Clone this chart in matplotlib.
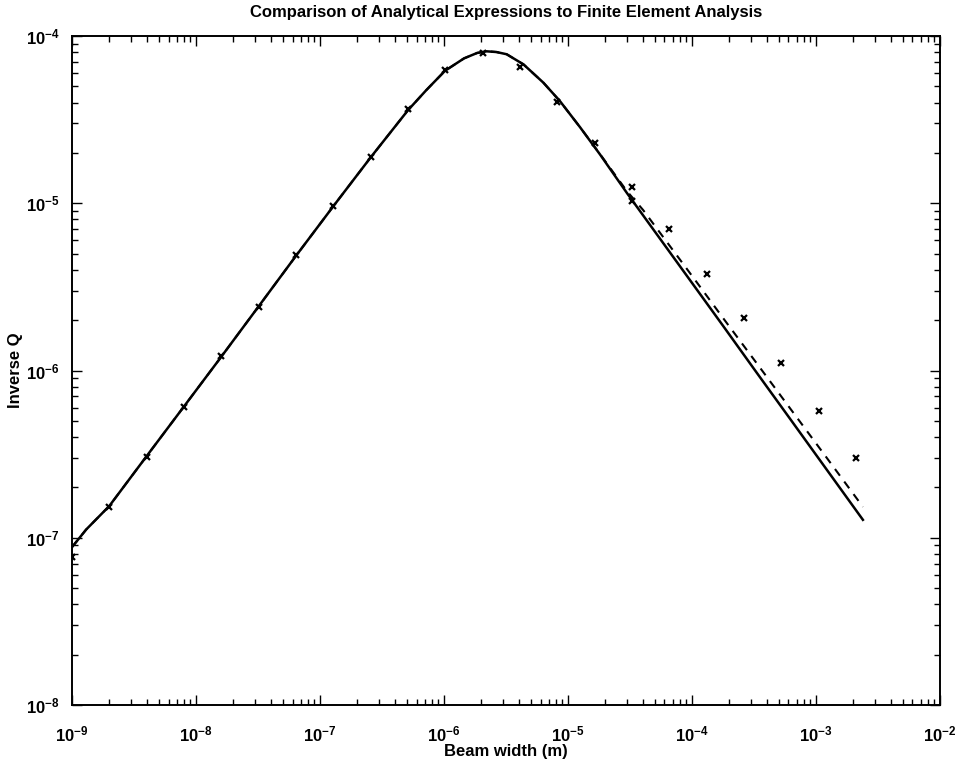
import matplotlib
matplotlib.use("Agg")
import matplotlib.pyplot as plt
from matplotlib.ticker import LogLocator, LogFormatterSciNotation, NullFormatter

plt.rcParams['font.family'] = ['Liberation Sans Narrow', 'Liberation Sans', 'DejaVu Sans']

# Analytical expression (solid)
solid_x = [1.0e-9, 1.1e-9, 1.3e-9, 2.0e-9, 4.0e-9, 8.0e-9, 1.6e-8, 3.2e-8, 6.4e-8,
           1.28e-7, 2.56e-7, 5.12e-7, 7.2e-7, 1.02e-6, 1.45e-6, 1.85e-6, 2.21e-6,
           2.65e-6, 3.2e-6, 4.37e-6, 6.33e-6, 8.61e-6, 1.25e-5, 1.81e-5, 2.99e-5,
           5.52e-5, 1.78e-4, 3.34e-4, 6.17e-4, 1.14e-3, 2.39e-3]
solid_y = [8.8e-8, 9.6e-8, 1.12e-7, 1.55e-7, 3.08e-7, 6.1e-7, 1.21e-6, 2.42e-6, 4.85e-6,
           9.6e-6, 1.88e-5, 3.6e-5, 4.75e-5, 6.2e-5, 7.35e-5, 7.92e-5, 8.10e-5,
           8.02e-5, 7.78e-5, 6.77e-5, 5.26e-5, 4.08e-5, 2.85e-5, 1.96e-5, 1.15e-5,
           6.14e-6, 1.85e-6, 9.66e-7, 5.15e-7, 2.74e-7, 1.28e-7]

# Analytical expression (dashed)
dashed_x = [1.0e-9, 1.1e-9, 1.3e-9, 2.0e-9, 4.0e-9, 8.0e-9, 1.6e-8, 3.2e-8, 6.4e-8,
            1.28e-7, 2.56e-7, 5.12e-7, 7.2e-7, 1.02e-6, 1.45e-6, 1.85e-6, 2.21e-6,
            2.65e-6, 3.2e-6, 4.37e-6, 6.33e-6, 8.61e-6, 1.25e-5, 1.81e-5, 2.99e-5,
            4.03e-5, 1.02e-4, 1.78e-4, 3.34e-4, 6.17e-4, 1.14e-3, 2.39e-3]
dashed_y = [8.8e-8, 9.6e-8, 1.12e-7, 1.55e-7, 3.08e-7, 6.1e-7, 1.21e-6, 2.42e-6, 4.85e-6,
            9.6e-6, 1.88e-5, 3.6e-5, 4.75e-5, 6.2e-5, 7.35e-5, 7.92e-5, 8.10e-5,
            8.02e-5, 7.78e-5, 6.77e-5, 5.26e-5, 4.08e-5, 2.85e-5, 1.97e-5, 1.18e-5,
            9.12e-6, 3.61e-6, 2.06e-6, 1.10e-6, 5.95e-7, 3.22e-7, 1.53e-7]

# Finite element analysis points
fea_x = [1.0e-9, 2.0e-9, 4.0e-9, 8.0e-9, 1.6e-8, 3.2e-8, 6.4e-8, 1.28e-7, 2.56e-7,
         5.12e-7, 1.02e-6, 2.05e-6, 4.10e-6, 8.19e-6, 1.64e-5, 3.28e-5, 3.28e-5,
         6.55e-5, 1.31e-4, 2.62e-4, 5.24e-4, 1.05e-3, 2.10e-3]
fea_y = [7.7e-8, 1.53e-7, 3.04e-7, 6.05e-7, 1.22e-6, 2.4e-6, 4.91e-6, 9.64e-6, 1.89e-5,
         3.66e-5, 6.27e-5, 7.94e-5, 6.53e-5, 4.03e-5, 2.29e-5, 1.25e-5, 1.03e-5,
         7.0e-6, 3.78e-6, 2.06e-6, 1.11e-6, 5.73e-7, 3.0e-7]

fig = plt.figure(figsize=(9.58, 7.63), dpi=100)
ax = fig.add_axes([0.0752, 0.076, 0.906, 0.8768])

ax.plot(dashed_x, dashed_y, color='black', lw=1.5, linestyle=(0, (4, 3.5)))
ax.plot(solid_x, solid_y, color='black', lw=1.8)
ax.plot(fea_x, fea_y, linestyle='none', marker='x', color='black', ms=5, mew=1.6)

ax.set_xscale('log')
ax.set_yscale('log')
ax.set_xlim(1e-9, 1e-2)
ax.set_ylim(1e-8, 1e-4)

for axis in (ax.xaxis, ax.yaxis):
    axis.set_major_locator(LogLocator(base=10, numticks=20))
    axis.set_minor_locator(LogLocator(base=10, subs=range(2, 10), numticks=20))
    axis.set_minor_formatter(NullFormatter())
    axis.set_major_formatter(LogFormatterSciNotation())

ax.tick_params(which='both', direction='in', top=True, right=True, width=1.0)
ax.tick_params(which='major', length=7, labelsize=12)
ax.tick_params(axis='x', which='major', pad=14)
ax.tick_params(axis='y', which='major', pad=9)
ax.tick_params(which='minor', length=4)
for s in ax.spines.values():
    s.set_linewidth(1.4)

ax.set_title('Comparison of Analytical Expressions to Finite Element Analysis',
             fontsize=12, fontweight='bold', pad=14)
ax.set_xlabel('Beam width (m)', fontsize=12, fontweight='bold', labelpad=0)
ax.set_ylabel('Inverse Q', fontsize=12, fontweight='bold', labelpad=2)
for lbl in ax.get_xticklabels() + ax.get_yticklabels():
    lbl.set_fontweight('bold')

fig.savefig('out.png', dpi=100)
